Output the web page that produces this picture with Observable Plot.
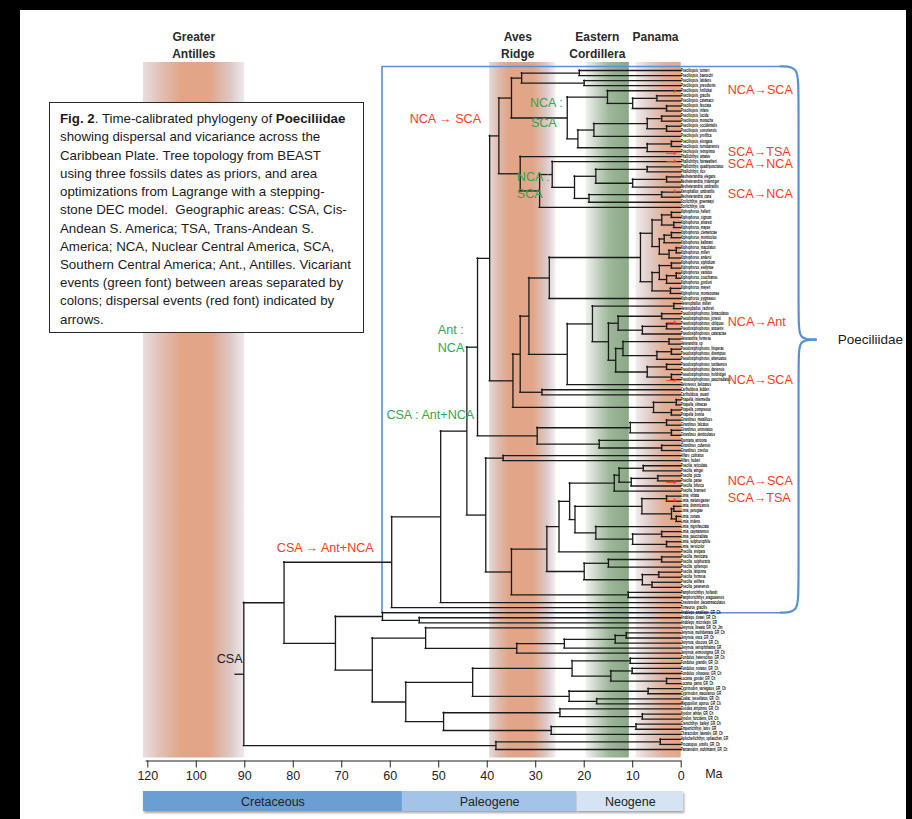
<!DOCTYPE html>
<html>
<head>
<meta charset="utf-8">
<script src="https://cdn.jsdelivr.net/npm/d3@7"></script>
<script src="https://cdn.jsdelivr.net/npm/@observablehq/plot@0.6"></script>
<style>
html, body { margin: 0; padding: 0; background: #000; }
#page { position: relative; width: 912px; height: 819px; overflow: hidden; background: #000; }
#paper { position: absolute; left: 20px; top: 10px; width: 886px; height: 809px; background: #fff; }
#tree { position: absolute; left: 0; top: 0; }
#periods { position: absolute; left: 0; top: 789px; }
#caption { position: absolute; left: 49px; top: 101.7px; width: 302.8px; height: 221.4px;
  border: 1.6px solid #2a2a2a; background: #fff; padding: 7.6px 0 0 10px; box-sizing: content-box;
  font-family: "Liberation Sans", Arial, sans-serif; font-size: 13.3px; line-height: 18.2px; color: #1b1b1b;
  white-space: nowrap; letter-spacing: 0; }
#caption b { font-weight: bold; }
</style>
</head>
<body>
<div id="page">
  <div id="paper"></div>
  <div id="tree"></div>
  <div id="periods"></div>
  <div id="caption"><b>Fig. 2</b>. Time-calibrated phylogeny of <b>Poeciliidae</b><br>showing dispersal and vicariance across the<br>Caribbean Plate. Tree topology from BEAST<br>using three fossils dates as priors, and area<br>optimizations from Lagrange with a stepping-<br>stone DEC model.&nbsp; Geographic areas: CSA, Cis-<br>Andean S. America; TSA, Trans-Andean S.<br>America; NCA, Nuclear Central America, SCA,<br>Southern Central America; Ant., Antilles. Vicariant<br>events (green font) between areas separated by<br>colons; dispersal events (red font) indicated by<br>arrows.</div>
</div>
<script>
// ---------------- DATA ----------------
// Tree (node ages in Ma after each closing parenthesis; tips at 0 Ma)
const cladeN4 = "((Poeciliopsis_turneri,Poeciliopsis_baenschi)21,(Poeciliopsis_latidens,Poeciliopsis_presidionis)20)32.9";
const cladeN5a = "(Poeciliopsis_hnilickai,((Poeciliopsis_gracilis,Poeciliopsis_catemaco)5,(Poeciliopsis_fasciata,Poeciliopsis_infans)3)10)15.2";
const cladeN5b = "((((Poeciliopsis_lucida,Poeciliopsis_monacha)4,(Poeciliopsis_occidentalis,Poeciliopsis_sonoriensis)3)7,Poeciliopsis_prolifica)18,((Poeciliopsis_elongata,Poeciliopsis_turrubarensis)2,Poeciliopsis_retropinna)7)21.3";
const cladeX17 = "((Phallichthys_quadripunctatus,Phallichthys_tico)7,((Neoheterandria_elegans,Neoheterandria_tridentiger)3,Neoheterandria_umbratilis)10)17.6";
const cladeY19 = "((Xenophallus_umbratilis,Neoheterandria_cana)4,Scolichthys_greenwayi)19";
const cladeU3a = "(((Xiphophorus_hellerii,Xiphophorus_signum)2,(Xiphophorus_alvarezi,Xiphophorus_mayae)1.5)4,(((Xiphophorus_clemenciae,Xiphophorus_monticolus)2,Xiphophorus_kallmani)3.5,((Xiphophorus_maculatus,Xiphophorus_milleri)1,Xiphophorus_andersi)2.5)4.5)6";
const cladeU3b = "(((Xiphophorus_xiphidium,Xiphophorus_evelynae)2,((Xiphophorus_variatus,Xiphophorus_couchianus)1,Xiphophorus_gordoni)3)4.5,(Xiphophorus_meyeri,Xiphophorus_montezumae)2.2)6";
const clade13 = "((Pseudoxiphophorus_bimaculatus,Pseudoxiphophorus_jonesii)4,((Pseudoxiphophorus_obliquus,Pseudoxiphophorus_anzuetoi)3,Pseudoxiphophorus_cataractae)8)13";
const clade12 = "((Heterandria_formosa,Heterandria_sp)2.5,((Pseudoxiphophorus_litoperas,Pseudoxiphophorus_diremptus)2,Pseudoxiphophorus_attenuatus)5)12";
const clade11 = "((Pseudoxiphophorus_tuxtlaensis,Pseudoxiphophorus_dariensis)3,(Pseudoxiphophorus_holdridgei,Pseudoxiphophorus_pauciradiatus)2)7";
const cladeUbot = "((Priapella_intermedia,Priapella_olmecae)1,(Priapella_compressa,Priapella_bonita)2)5.7";
const cladeV = "(((Girardinus_metallicus,Girardinus_falcatus)3,(Girardinus_uninotatus,Girardinus_denticulatus)2)10.5,(Quintana_atrizona,(Girardinus_cubensis,Girardinus_creolus)4)16.9)29.7";
const clade13_8 = "(((Poecilia_reticulata,Poecilia_wingei)7.8,((Poecilia_picta,Poecilia_parae)4.8,Poecilia_bifurca)10.3)12.8,Poecilia_branneri)13.8";
const clade8_1 = "((Limia_vittata,Limia_melanogaster)3,((Limia_dominicensis,Limia_perugiae)1.5,(Limia_zonata,Limia_tridens)1)2)8.1";
const clade17_6 = "(Limia_nigrofasciata,((Limia_caymanensis,Limia_pauciradiata)4,(Limia_sulphurophila,Limia_versicolor)3)10)17.6";
const clade20 = "(((Poecilia_mexicana,Poecilia_sulphuraria)4,Poecilia_sphenops)15,((Poecilia_latipinna,Poecilia_formosa)4.6,(Poecilia_velifera,Poecilia_petenensis)6)8)20";
const cladeO1a = "(Anableps_anableps_GR_Ch,(Anableps_dowei_GR_Ch,Anableps_microlepis_GR)54)61.6";
const cladeO2a = "(Jenynsia_lineata_GR_Ch_Jm,((((Jenynsia_multidentata_GR_Ch,Jenynsia_onca_GR_Ch)11.3,Jenynsia_obscura_GR_Ch)13.6,Jenynsia_tetrophthalma_GR)24.1,Jenynsia_eirmostigma_GR_Ch)33.9)52.7";
const clade22_5 = "((Fundulus_heteroclitus_GR_Ch,Fundulus_grandis_GR_Ch)10.5,((Fundulus_notatus_GR_Ch,Fundulus_olivaceus_GR_Ch)10.1,(Lucania_goodei_GR_Ch,Lucania_parva_GR_Ch)3)14.5)22.5";
const clade23_1 = "((Cyprinodon_variegatus_GR_Ch,Cyprinodon_macularius_GR)6.8,(Cualac_tessellatus_GR_Ch,Megupsilon_aporus_GR_Ch)17.4)23.1";
const clade49 = "((Goodea_atripinnis_GR_Ch,(Ilyodon_whitei_GR_Ch,Ilyodon_furcidens_GR_Ch)8)25,((Crenichthys_baileyi_GR_Ch,Empetrichthys_latos_GR)9.3,Characodon_lateralis_GR_Ch)26.8)49";
const cladeRootBottom = "((Aplocheilichthys_spilauchen_GR,Procatopus_similis_GR_Ch)4.3,Pantanodon_stuhlmanni_GR_Ch)38.2";

const cladeN3 = `(${cladeN4},(${cladeN5a},${cladeN5b})23.5)35`;
const cladeN6 = `(Phallichthys_amates,((Phallichthys_fairweatheri,(${cladeX17},${cladeY19})22)26.6,Scolichthys_iota)29.2)33.2`;
const cladeN2 = `(${cladeN3},${cladeN6})37.6`;
const cladeU3 = `((${cladeU3a},${cladeU3b})8.4,Xiphophorus_pygmaeus)27.2`;
const cladeU4 = `(((Heterophallus_milleri,Heterophallus_rachovii)1.5,(${clade13},(${clade12},${clade11})13.5)15)18.3,Belonesox_belizanus)23.5`;
const cladeU = `(((${cladeU3},${cladeU4})31.4,(Carlhubbsia_kidderi,Carlhubbsia_stuarti)28.7)33.2,${cladeUbot})34.7`;
const cladeT = `((${cladeN2},${cladeU})39.5,${cladeV})42`;
const cladeW = `((Alfaro_cultratus,Alfaro_huberi)36.7,((((${clade13_8},(${clade8_1},${clade17_6})21.9)23,Poecilia_vivipara)25.2,${clade20})27.7,(Pamphorichthys_hollandi,Pamphorichthys_araguaiensis)10.9)35)40.3`;
const cladePoeciliidae = `(((${cladeT},${cladeW})44.2,Cnesterodon_decemmaculatus)49.6,Tomeurus_gracilis)59.7`;
const cladeOutgroup = `(${cladeO1a},(${cladeO2a},((${clade22_5},${clade23_1})43,${clade49})56.8)63.7)71.3`;
const newick = `((${cladePoeciliidae},${cladeOutgroup})81.9,${cladeRootBottom})90.2`;
const rootStubAge = 91.9;

// Axis ticks (the figure's axis labels its leftmost tick "120")
const tickValues = [110, 100, 90, 80, 70, 60, 50, 40, 30, 20, 10, 0];
const tickLabels = ["120", "100", "90", "80", "70", "60", "50", "40", "30", "20", "10", "0"];

// Geological event bands (Ma)
const bandNames = ["Greater\nAntilles", "Aves\nRidge", "Eastern\nCordillera", "Panama"];
const bandOld = [110.9, 39.5, 19.6, 9.3];
const bandYoung = [90.0, 25.8, 10.7, 0.0];
const bandLabelAge = [100.5, 33.7, 17.3, 5.3];

// Periods
const periodNames = ["Cretaceous", "Paleogene", "Neogene"];
const periodOld = [110.9, 57.5, 21.5];
const periodYoung = [57.5, 21.5, -0.5];
const periodColors = ["#6a9fd6", "#a4c3e8", "#d6e3f3"];

// Dispersal labels at the tips (row = tip row position)
const dispersalText = ["NCA\u2192SCA", "SCA\u2192TSA", "SCA\u2192NCA", "SCA\u2192NCA", "NCA\u2192Ant", "NCA\u2192SCA", "NCA\u2192SCA", "SCA\u2192TSA"];
const dispersalRow = [3.9, 16.0, 18.4, 24.3, 49.7, 61.1, 81.1, 84.4];
const arrowRow = [3.6, 15.7, 17.4, 23.3, 49.1, 60.6, 80.7, 84.2];

// Node annotations
const nodeText = ["NCA \u2192 SCA", "NCA :", "SCA", "NCA :", "SCA", "Ant :", "NCA", "CSA : Ant+NCA", "CSA \u2192 Ant+NCA", "CSA"];
const nodeKind = ["dispersal", "vicariance", "vicariance", "vicariance", "vicariance", "vicariance", "vicariance", "vicariance", "dispersal", "area"];
const nodeAge = [56.0, 31.2, 31.0, 33.9, 33.9, 50.2, 50.2, 60.8, 83.4, 95.8];
const nodeRow = [9.5, 6.5, 10.3, 21.1, 24.3, 51.3, 54.8, 67.9, 94.3, 116.2];

// ---------------- TREE LAYOUT ----------------
function parseNewick(str) {
  const s = str.replace(/\s+/g, "");
  let i = 0;
  function node() {
    if (s[i] === "(") {
      i++;
      const children = [];
      for (;;) {
        children.push(node());
        if (s[i] === ",") { i++; continue; }
        if (s[i] === ")") { i++; break; }
        throw new Error("bad newick at " + i);
      }
      const m = /^[0-9.]+/.exec(s.slice(i));
      i += m[0].length;
      return {children, age: +m[0]};
    }
    const m = /^[^,()]+/.exec(s.slice(i));
    i += m[0].length;
    return {name: m[0], age: 0};
  }
  return node();
}
const root = parseNewick(newick);
const tips = [], hSegs = [], vSegs = [];
(function walk(n) {
  if (!n.children) { n.y = tips.length; tips.push(n); return; }
  n.children.forEach(walk);
  const a = n.children[0], b = n.children[n.children.length - 1];
  n.y = (a.y + b.y) / 2;
  vSegs.push({x: n.age, y1: a.y, y2: b.y});
  n.children.forEach(c => hSegs.push({y: c.y, x1: n.age, x2: c.age}));
})(root);
hSegs.push({y: root.y, x1: rootStubAge, x2: root.age});
const nTips = tips.length;
const lastPoeciliid = tips.findIndex(t => t.name === "Tomeurus_gracilis");

const bands = bandNames.map((name, i) => ({name, old: bandOld[i], young: bandYoung[i], labelAge: bandLabelAge[i], id: "band" + i}));
const periods = periodNames.map((name, i) => ({name, old: periodOld[i], young: periodYoung[i], color: periodColors[i]}));
const dispersals = dispersalText.map((text, i) => ({text, row: dispersalRow[i], arrowRow: arrowRow[i]}));
const kindColor = {dispersal: "#ee4024", vicariance: "#36a350", area: "#1a1a1a"};
const nodeLabels = nodeText.map((text, i) => ({text, kind: nodeKind[i], age: nodeAge[i], row: nodeRow[i]}));

// Poeciliidae bracket (box + curly brace), in data units
const boxTop = -0.8, boxBottom = lastPoeciliid + 1.0, boxLeft = 61.7;
const boxMid = (boxTop + boxBottom) / 2;
const boxLine = [
  {x: -20.5, y: boxTop}, {x: boxLeft, y: boxTop}, {x: boxLeft, y: boxBottom}, {x: -20.5, y: boxBottom}
];
const brace = [
  {h: "a", x: -20.5, y: boxTop}, {h: "a", x: -24.2, y: boxTop}, {h: "a", x: -24.2, y: boxTop + 5},
  {h: "a", x: -24.2, y: boxMid - 4}, {h: "a", x: -24.2, y: boxMid}, {h: "a", x: -27.8, y: boxMid},
  {h: "b", x: -27.8, y: boxMid}, {h: "b", x: -24.2, y: boxMid}, {h: "b", x: -24.2, y: boxMid + 4},
  {h: "b", x: -24.2, y: boxBottom - 5}, {h: "b", x: -24.2, y: boxBottom}, {h: "b", x: -20.5, y: boxBottom}
];

// ---------------- PLOT ----------------
const W = 912, H = 819;
const mLeft = 147.3, mRight = 231.3, mTop = 62, mBottom = 58.5;
const yRange = [70, 749];
const axisRow = (H - mBottom - yRange[0]) / (yRange[1] - yRange[0]) * (nTips - 1);
const sans = "'Liberation Sans', Arial, sans-serif";
const red = "#ee4024";

const bandMarks = bands.map(b => Plot.rect([b], {x1: "old", x2: "young", fill: `url(#${b.id})`, insetBottom: 3}));

const chart = Plot.plot({
  width: W, height: H,
  marginLeft: mLeft, marginRight: mRight, marginTop: mTop, marginBottom: mBottom,
  x: {domain: [110, 0], range: [mLeft, W - mRight]},
  y: {domain: [0, nTips - 1], range: yRange, axis: null},
  style: {background: "transparent", overflow: "visible", fontFamily: sans},
  marks: [
    ...bandMarks,
    Plot.line(boxLine, {x: "x", y: "y", stroke: "#5b8fd0", strokeWidth: 1.6}),
    Plot.line(brace, {x: "x", y: "y", z: "h", curve: "basis", stroke: "#5b8fd0", strokeWidth: 2.2}),
    Plot.ruleX(vSegs, {x: "x", y1: "y1", y2: "y2", stroke: "#1a1a1a", strokeWidth: 1.3, strokeLinecap: "square"}),
    Plot.ruleY(hSegs, {y: "y", x1: "x1", x2: "x2", stroke: "#1a1a1a", strokeWidth: 1.3, strokeLinecap: "square"}),
    Plot.text(tips, {x: "age", y: "y", text: "name", textAnchor: "start", dx: 3,
      fontSize: 5.0, fontWeight: "bold", fill: "#0c0c0c", fontFamily: sans}),
    Plot.text(dispersals, {x: 2.0, y: "arrowRow", text: () => "\u2192", fill: red, fontSize: 17, fontFamily: sans}),
    Plot.text(dispersals, {x: -9.6, y: "row", text: "text", fill: red, fontSize: 12.6, textAnchor: "start", fontFamily: sans}),
    Plot.text(nodeLabels, {x: "age", y: "row", text: "text", fill: d => kindColor[d.kind], fontSize: 12.6, textAnchor: "start", fontFamily: sans}),
    Plot.text(["Poeciliidae"], {x: -32.3, y: boxMid, text: d => d, fontSize: 13.5, textAnchor: "start", fill: "#1a1a1a", fontFamily: sans}),
    Plot.ruleY([axisRow], {x1: 110.35, x2: -0.1, stroke: "#222", strokeWidth: 1.2}),
    Plot.axisX({anchor: "bottom", ticks: tickValues, tickFormat: d => tickLabels[tickValues.indexOf(d)],
      tickSize: 7, tickPadding: 3, fontSize: 12.5, label: null, stroke: "#222", fill: "#222"}),
    Plot.text(["Ma"], {frameAnchor: "bottom-right", text: d => d, dx: 24, dy: 16.5, textAnchor: "start", fontSize: 12.5, fill: "#222"}),
    Plot.text(bands, {x: "labelAge", text: "name", frameAnchor: "top", lineAnchor: "top", dy: -33.3,
      lineHeight: 1.4, fontSize: 12, fontWeight: "bold", fill: "#2a2a2a"})
  ],
  color: {type: "identity"}
});

const defs = `<defs>
<linearGradient id="band0" x1="0" x2="1" y1="0" y2="0">
  <stop offset="0" stop-color="#e8dedf"/><stop offset="0.2" stop-color="#e0bcae"/>
  <stop offset="0.38" stop-color="#e2a588"/><stop offset="0.66" stop-color="#e2a588"/>
  <stop offset="0.86" stop-color="#dcc7c4"/><stop offset="1" stop-color="#efebec"/>
</linearGradient>
<linearGradient id="band1" x1="0" x2="1" y1="0" y2="0">
  <stop offset="0" stop-color="#e5d9d9"/><stop offset="0.16" stop-color="#e0b7a7"/>
  <stop offset="0.3" stop-color="#e2a588"/><stop offset="0.66" stop-color="#e2a588"/>
  <stop offset="0.86" stop-color="#dcc9c7"/><stop offset="1" stop-color="#f2f0f0"/>
</linearGradient>
<linearGradient id="band2" x1="0" x2="1" y1="0" y2="0">
  <stop offset="0" stop-color="#f0f2f0"/><stop offset="0.3" stop-color="#c2d0bf"/>
  <stop offset="0.55" stop-color="#9db799"/><stop offset="1" stop-color="#8aa886"/>
</linearGradient>
<linearGradient id="band3" x1="0" x2="1" y1="0" y2="0">
  <stop offset="0" stop-color="#f2eded"/><stop offset="0.3" stop-color="#e1ccc8"/>
  <stop offset="0.62" stop-color="#e2b099"/><stop offset="1" stop-color="#e5a486"/>
</linearGradient>
</defs>`;
chart.insertAdjacentHTML("afterbegin", defs);

// condense the tiny tip labels horizontally (they are set in a condensed face in the figure)
const textGroups = chart.querySelectorAll('g[aria-label="text"]');
if (textGroups.length) {
  const x0 = 680.7;
  textGroups[0].setAttribute("transform", `translate(${x0},0) scale(0.6,1) translate(${-x0},0)`);
}
document.getElementById("tree").appendChild(chart);

const periodChart = Plot.plot({
  width: W, height: 30,
  marginLeft: mLeft, marginRight: mRight, marginTop: 2, marginBottom: 8,
  x: {domain: [110, 0], range: [mLeft, W - mRight], axis: null},
  color: {type: "identity"},
  style: {background: "transparent", overflow: "visible", fontFamily: sans},
  marks: [
    Plot.rect(periods, {x1: "old", x2: "young", fill: "color"}),
    Plot.text(periods, {x: d => (d.old + d.young) / 2, text: "name", frameAnchor: "middle", fontSize: 12.5, fill: "#222"})
  ]
});
const rg = periodChart.querySelector('g[aria-label="rect"]');
if (rg) rg.style.filter = "drop-shadow(1.5px 2px 1px rgba(0,0,0,0.35))";
document.getElementById("periods").appendChild(periodChart);
</script>
</body>
</html>
